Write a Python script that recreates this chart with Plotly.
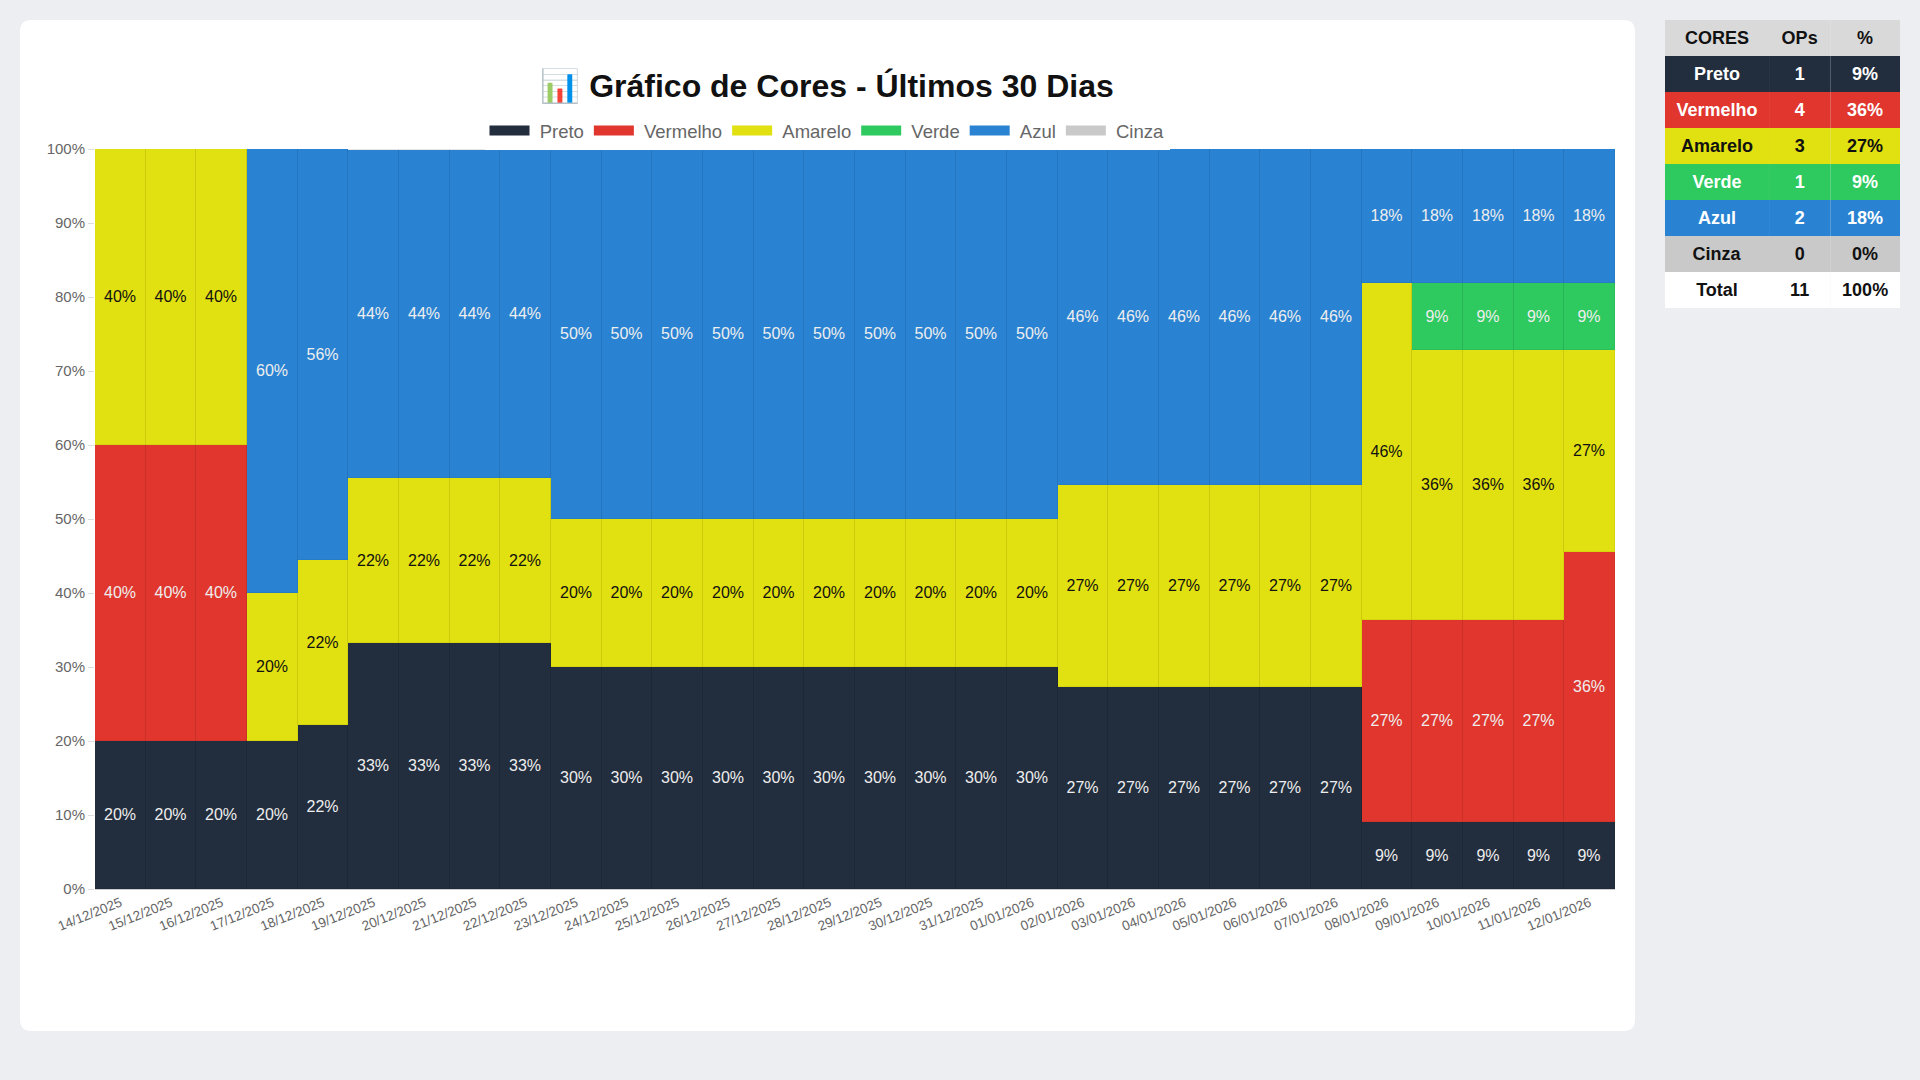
import plotly.graph_objects as go

# dias (ultimos 30)
dias = ["14/12/2025", "15/12/2025", "16/12/2025", "17/12/2025", "18/12/2025",
        "19/12/2025", "20/12/2025", "21/12/2025", "22/12/2025", "23/12/2025",
        "24/12/2025", "25/12/2025", "26/12/2025", "27/12/2025", "28/12/2025",
        "29/12/2025", "30/12/2025", "31/12/2025", "01/01/2026", "02/01/2026",
        "03/01/2026", "04/01/2026", "05/01/2026", "06/01/2026", "07/01/2026",
        "08/01/2026", "09/01/2026", "10/01/2026", "11/01/2026", "12/01/2026"]

# percentuais por dia
preto = [20, 20, 20, 20, 22.2, 33.3, 33.3, 33.3, 33.3, 30,
         30, 30, 30, 30, 30, 30, 30, 30, 30, 27.3,
         27.3, 27.3, 27.3, 27.3, 27.3, 9.1, 9.1, 9.1, 9.1, 9.1]
vermelho = [40, 40, 40, 0, 0, 0, 0, 0, 0, 0,
            0, 0, 0, 0, 0, 0, 0, 0, 0, 0,
            0, 0, 0, 0, 0, 27.3, 27.3, 27.3, 27.3, 36.4]
amarelo = [40, 40, 40, 20, 22.2, 22.2, 22.2, 22.2, 22.2, 20,
           20, 20, 20, 20, 20, 20, 20, 20, 20, 27.3,
           27.3, 27.3, 27.3, 27.3, 27.3, 45.5, 36.4, 36.4, 36.4, 27.3]
verde = [0, 0, 0, 0, 0, 0, 0, 0, 0, 0,
         0, 0, 0, 0, 0, 0, 0, 0, 0, 0,
         0, 0, 0, 0, 0, 0, 9.1, 9.1, 9.1, 9.1]
azul = [0, 0, 0, 60, 55.6, 44.4, 44.4, 44.4, 44.4, 50,
        50, 50, 50, 50, 50, 50, 50, 50, 50, 45.5,
        45.5, 45.5, 45.5, 45.5, 45.5, 18.2, 18.2, 18.2, 18.2, 18.2]
cinza = [0] * 30

# tabela resumo
cores_nomes = ["Preto", "Vermelho", "Amarelo", "Verde", "Azul", "Cinza", "Total"]
cores_ops = [1, 4, 3, 1, 2, 0, 11]
cores_pct = ["9%", "36%", "27%", "9%", "18%", "0%", "100%"]

COR = {"Preto": "#222d3d", "Vermelho": "#e0362e", "Amarelo": "#e1e010",
       "Verde": "#2ec95f", "Azul": "#2a83d2", "Cinza": "#c9c9c9"}
TXT = {"Preto": "#eeeeee", "Vermelho": "#eeeeee", "Amarelo": "#111111",
       "Verde": "#eeeeee", "Azul": "#eeeeee", "Cinza": "#111111"}

series = [("Preto", preto), ("Vermelho", vermelho), ("Amarelo", amarelo),
          ("Verde", verde), ("Azul", azul), ("Cinza", cinza)]

fig = go.Figure()

for nome, vals in series:
    txt = ["%d%%" % int(v + 0.5) if v > 0 else "" for v in vals]
    fig.add_trace(go.Bar(
        x=dias, y=vals, name=nome, showlegend=False, legendgroup=nome,
        marker=dict(color=COR[nome], line=dict(color="rgba(0,0,0,0.05)", width=1)),
        text=txt, textposition="inside", insidetextanchor="middle",
        textangle=0, constraintext="none",
        textfont=dict(family="Liberation Sans, Arial", size=16, color=TXT[nome]),
        hoverinfo="skip",
    ))

# itens da legenda com caixa larga (estilo chart.js)
for nome, vals in series:
    fig.add_trace(go.Scatter(
        x=[dias[0]], y=[None], name="\u00a0" + nome, legendgroup=nome, mode="lines",
        line=dict(color=COR[nome], width=16), hoverinfo="skip",
    ))

# tabela lateral
fills = [COR["Preto"], COR["Vermelho"], COR["Amarelo"], COR["Verde"],
         COR["Azul"], COR["Cinza"], "#ffffff"]
fcols = ["white", "white", "#111111", "white", "white", "#111111", "#111111"]
fig.add_trace(go.Table(
    domain=dict(x=[1665 / 1920, 1900 / 1920], y=[0.60, 1 - 20 / 1080]),
    columnwidth=[85, 50, 57],
    header=dict(values=["<b>CORES</b>", "<b>OPs</b>", "<b>%</b>"],
                fill_color="#d9d9d9", line=dict(color="#d9d9d9", width=0),
                font=dict(family="Liberation Sans, Arial", size=18, color="#111111"),
                align="center", height=30),
    cells=dict(values=[["<b>%s</b>" % c for c in cores_nomes],
                       ["<b>%d</b>" % o for o in cores_ops],
                       ["<b>%s</b>" % p for p in cores_pct]],
               fill_color=[fills] * 3, line=dict(color=[fills] * 3, width=0),
               font=dict(family="Liberation Sans, Arial", size=18, color=[fcols] * 3),
               align="center", height=30),
))

# cartao branco com cantos arredondados
x0, y0, x1, y1, r = 20 / 1920, 1 - 20 / 1080, 1635 / 1920, 1 - 1031 / 1080, 0.006
ry = r * 1920 / 1080
card = ("M %f,%f L %f,%f Q %f,%f %f,%f L %f,%f Q %f,%f %f,%f L %f,%f Q %f,%f %f,%f "
        "L %f,%f Q %f,%f %f,%f Z") % (
    x0 + r, y0, x1 - r, y0, x1, y0, x1, y0 - ry, x1, y1 + ry, x1, y1, x1 - r, y1,
    x0 + r, y1, x0, y1, x0, y1 + ry, x0, y0 - ry, x0, y0, x0 + r, y0)

fig.update_layout(
    width=1920, height=1080,
    margin=dict(l=0, r=0, t=0, b=0, pad=0, autoexpand=False),
    paper_bgcolor="#eceef1", plot_bgcolor="white",
    barmode="stack", bargap=0,
    font=dict(family="Liberation Sans, Arial", color="#666666"),
    shapes=[dict(type="path", path=card, xref="paper", yref="paper",
                 fillcolor="white", line=dict(width=0), layer="below")],
    title=dict(text="📊 Gráfico de Cores - Últimos 30 Dias",
               x=827 / 1920, xanchor="center", y=1 - 86 / 1080, yanchor="middle",
               font=dict(family="Liberation Sans, Arial", size=32, color="#111111",
                         weight="bold")),
    legend=dict(orientation="h", x=827 / 1920, xanchor="center",
                y=1 - 131 / 1080, yanchor="middle", bgcolor="white",
                font=dict(size=18.5, color="#666666"), traceorder="normal",
                itemwidth=40, itemclick=False, itemdoubleclick=False),
    xaxis=dict(domain=[95 / 1920, 1615 / 1920], type="category", tickangle=-22,
               tickfont=dict(size=13.5, color="#666666"), showgrid=False,
               showline=True, linecolor="#cccccc", ticks="", fixedrange=True,
               automargin=False),
    yaxis=dict(domain=[1 - 889 / 1080, 1 - 149 / 1080], range=[0, 100], dtick=10,
               ticksuffix="%", tickfont=dict(size=15, color="#666666"),
               showgrid=False, zeroline=False, ticks="outside", ticklen=6,
               tickcolor="#dddddd", fixedrange=True, automargin=False),
)

fig.write_html("out.html", config=dict(displayModeBar=False), post_script=(
    "document.body.style.margin='0';"
    "document.body.style.background='#eceef1';"
    "document.body.style.overflow='hidden';"))
